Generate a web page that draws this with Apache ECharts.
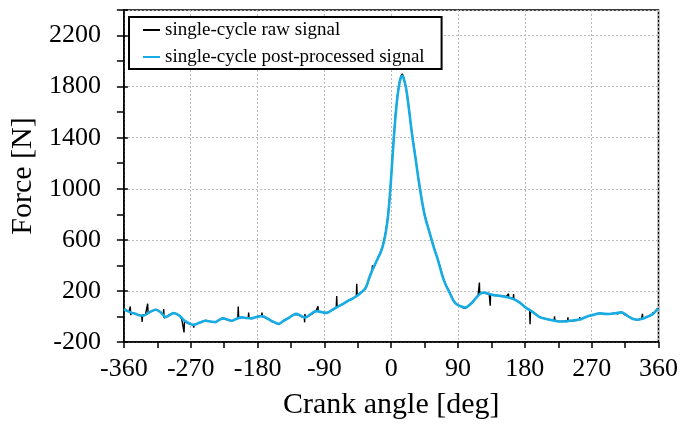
<!DOCTYPE html>
<html>
<head>
<meta charset="utf-8">
<script src="https://cdn.jsdelivr.net/npm/echarts@6/dist/echarts.min.js"></script>
<style>
  html, body { margin: 0; padding: 0; background: #fff; }
  #chart { width: 681px; height: 425px; }
</style>
</head>
<body>
<div id="chart"></div>
<script>
// Post-processed (filtered) force over one engine cycle
const filteredAngle = [-360,-355,-350,-344,-338,-333,-325,-317,-310,-304,-298,-293,-285,-279,-272,-266,-258,-250,-243,-237,-231,-226,-220,-215,-208,-201,-195,-188,-183,-178,-173,-166,-159,-152,-146,-139,-133,-128,-122,-116,-108,-101,-94,-87,-80,-74,-68,-62,-57,-52,-47,-42,-38,-34,-30,-26,-22,-18,-14,-10,-7,-4,-1,2,5,8,11,13,15,17,20,24,28,33,37,42,46,50,54,58,62,66,70,74,78,84,89,94,100,105,110,115,120,124,130,138,145,151,158,165,170,175,180,185,190,195,200,207,214,220,227,234,240,247,254,260,267,274,281,288,294,302,310,316,321,326,332,338,343,348,352,356,359,360];
const filteredForce = [58,42,30,19,8,8,35,52,30,-5,12,26,5,-30,-55,-66,-48,-34,-40,-44,-25,-15,-25,-33,-18,-7,-12,-15,-7,0,2,-18,-40,-58,-38,-15,8,20,5,-8,20,42,35,28,50,70,88,108,126,140,158,180,200,228,295,355,405,455,505,580,670,800,1010,1270,1510,1700,1825,1870,1885,1860,1790,1620,1430,1230,1065,885,770,690,610,530,460,378,298,240,195,122,92,80,70,88,115,150,178,188,180,167,162,157,148,136,120,100,75,55,38,15,-5,-18,-26,-33,-40,-40,-34,-30,-24,-10,5,15,24,20,19,25,32,15,-6,-20,-26,-18,-7,5,18,40,57,50];

// Raw sensor force over the same cycle (noisy, with spikes)
const rawAngle = [-360,-357,-353,-351.4,-350.8,-350,-347,-344,-340,-336,-335.4,-334.8,-331,-328.6,-328,-327.4,-322,-317,-312,-307,-306.4,-305.8,-302,-298,-293,-289,-285,-282,-279.6,-279,-278.4,-275,-270,-266.6,-266,-265.4,-260,-255,-250,-245,-240,-236,-232,-228,-224,-220,-215,-210,-206.6,-206,-205.4,-201,-196,-192.6,-192,-191.4,-188,-183,-178,-174.6,-174,-173.4,-170,-166,-160,-156,-152,-148,-144,-139,-135,-130,-128,-124,-120,-117,-116.6,-116.2,-115.8,-112,-106,-101,-99,-98.6,-98.2,-94,-88,-82,-77,-74,-73.4,-72.8,-68,-63,-58,-52,-47,-46.4,-45.8,-40,-36,-34,-32,-29,-26,-25.2,-24.4,-20,-16,-12,-9.4,-7,-5,-2.5,-0.5,2,4,6,8.4,11,13,15,17,19.6,22,24,26,28.4,31,33,35,37.4,39.5,41.8,44,46.3,49,53,56,59.7,62,64,66.4,68,71,74,77.6,80,84,88,93,96,99.8,103,108.7,113,117,118.4,118.8,119.2,124,128,132,133,133.4,133.8,138,144,151,155,157.6,158,158.4,160,164.4,164.8,165.2,170,173.5,178,182.4,186.4,187,187.6,191,196,200,205,210,213.6,219.6,220,220.4,227,233,237.6,238,238.4,245,250,253.6,254,254.4,260,267,274,280.5,287,294,300,305,309.5,315,320.7,326,331.8,337,338,338.4,338.8,343,348,352,352.4,352.8,356,358.6,360];
const rawForce = [65,48,40,78,10,30,28,20,12,5,-42,12,12,22,100,28,42,56,40,12,58,-12,0,14,30,20,6,-22,-32,-125,-40,-50,-62,-66,-88,-64,-54,-42,-30,-38,-44,-46,-26,-14,-20,-28,-36,-22,-14,78,-10,-5,-12,-14,30,-12,-16,-6,2,4,30,0,-10,-20,-42,-48,-60,-48,-28,-14,2,16,24,10,-4,-6,-46,20,-4,2,22,46,40,80,40,36,26,42,56,72,160,76,88,104,124,142,158,255,168,192,210,200,255,312,358,400,372,430,482,540,608,678,765,900,1055,1275,1445,1600,1730,1835,1880,1900,1868,1800,1715,1622,1520,1415,1315,1235,1150,1055,975,893,825,770,712,628,570,502,458,425,378,342,285,242,205,172,125,96,80,70,64,80,110,140,165,175,265,178,186,180,175,172,85,170,166,164,160,155,150,178,150,146,140,175,138,120,110,86,64,54,-60,44,34,12,-4,-14,-20,-26,-28,2,-30,-40,-38,-32,-6,-32,-34,-30,-22,-4,-24,-10,6,16,26,20,20,26,20,36,12,-4,-22,-26,-20,-16,20,-15,-8,6,16,32,16,44,62,50];

const seriesNames = ['single-cycle raw signal', 'single-cycle post-processed signal'];

const pairs = (xs, ys) => xs.map((x, i) => [x, ys[i]]);
const serif = 'Liberation Serif';
const black = '#000';
const cyan = '#17ace4';
// thin horizontal bar used as the legend key
const dashIcon = 'path://M0,0L17,0L17,2L0,2Z';

const chart = echarts.init(document.getElementById('chart'), null, { renderer: 'canvas' });
chart.setOption({
  animation: false,
  backgroundColor: '#fff',
  grid: {
    left: 123, right: 20, top: 10, bottom: 82,
    show: true, borderColor: black, borderWidth: 1.5, backgroundColor: 'transparent'
  },
  legend: {
    orient: 'vertical', left: 129, top: 17,
    padding: [1, 17, 0, 14], itemGap: 3,
    itemWidth: 17, itemHeight: 14,
    backgroundColor: '#fff', borderColor: black, borderWidth: 2,
    textStyle: { fontFamily: serif, fontSize: 19, color: black, lineHeight: 24 },
    data: seriesNames.map(name => ({ name, icon: dashIcon }))
  },
  xAxis: {
    type: 'value', min: -360, max: 360, interval: 90,
    name: 'Crank angle [deg]', nameLocation: 'middle', nameGap: 48,
    nameTextStyle: { fontFamily: serif, fontSize: 30, color: black },
    axisLine: { onZero: false, lineStyle: { color: black, width: 1.5 } },
    axisTick: { length: 6, lineStyle: { color: black, width: 1.5 } },
    minorTick: { show: true, splitNumber: 2, length: 6, lineStyle: { color: black, width: 1.5 } },
    axisLabel: { fontFamily: serif, fontSize: 26, color: black, margin: 14 },
    splitLine: { show: true, lineStyle: { color: '#b8b8b8', type: [2, 2], width: 1 } }
  },
  yAxis: [
    {
      type: 'value', min: -200, max: 2400, interval: 400, position: 'left',
      name: 'Force [N]', nameLocation: 'middle', nameGap: 80,
      nameTextStyle: { fontFamily: serif, fontSize: 30, color: black },
      axisLine: { onZero: false, lineStyle: { color: black, width: 1.5 } },
      axisTick: { inside: true, length: 4, lineStyle: { color: black, width: 1.5 } },
      axisLabel: {
        fontFamily: serif, fontSize: 26, color: black, margin: 23,
        formatter: v => (v > 2200 ? '' : String(v))
      },
      splitLine: { show: true, lineStyle: { color: '#b8b8b8', type: [2, 2], width: 1 } }
    },
    {
      // outer tick marks every 200 N
      type: 'value', min: -200, max: 2400, interval: 200, position: 'left', offset: 0,
      axisLine: { show: false, onZero: false },
      axisTick: { show: true, length: 7, lineStyle: { color: black, width: 1.5 } },
      axisLabel: { show: false },
      splitLine: { show: false }
    }
  ],
  series: [
    {
      name: seriesNames[0], type: 'line', yAxisIndex: 0,
      data: pairs(rawAngle, rawForce),
      symbol: 'none', color: black,
      lineStyle: { color: black, width: 1.4 },
      z: 2
    },
    {
      name: seriesNames[1], type: 'line', yAxisIndex: 0,
      data: pairs(filteredAngle, filteredForce),
      smooth: 0.35, symbol: 'none', color: cyan,
      lineStyle: { color: cyan, width: 2.6 },
      z: 3
    }
  ]
});
</script>
</body>
</html>
